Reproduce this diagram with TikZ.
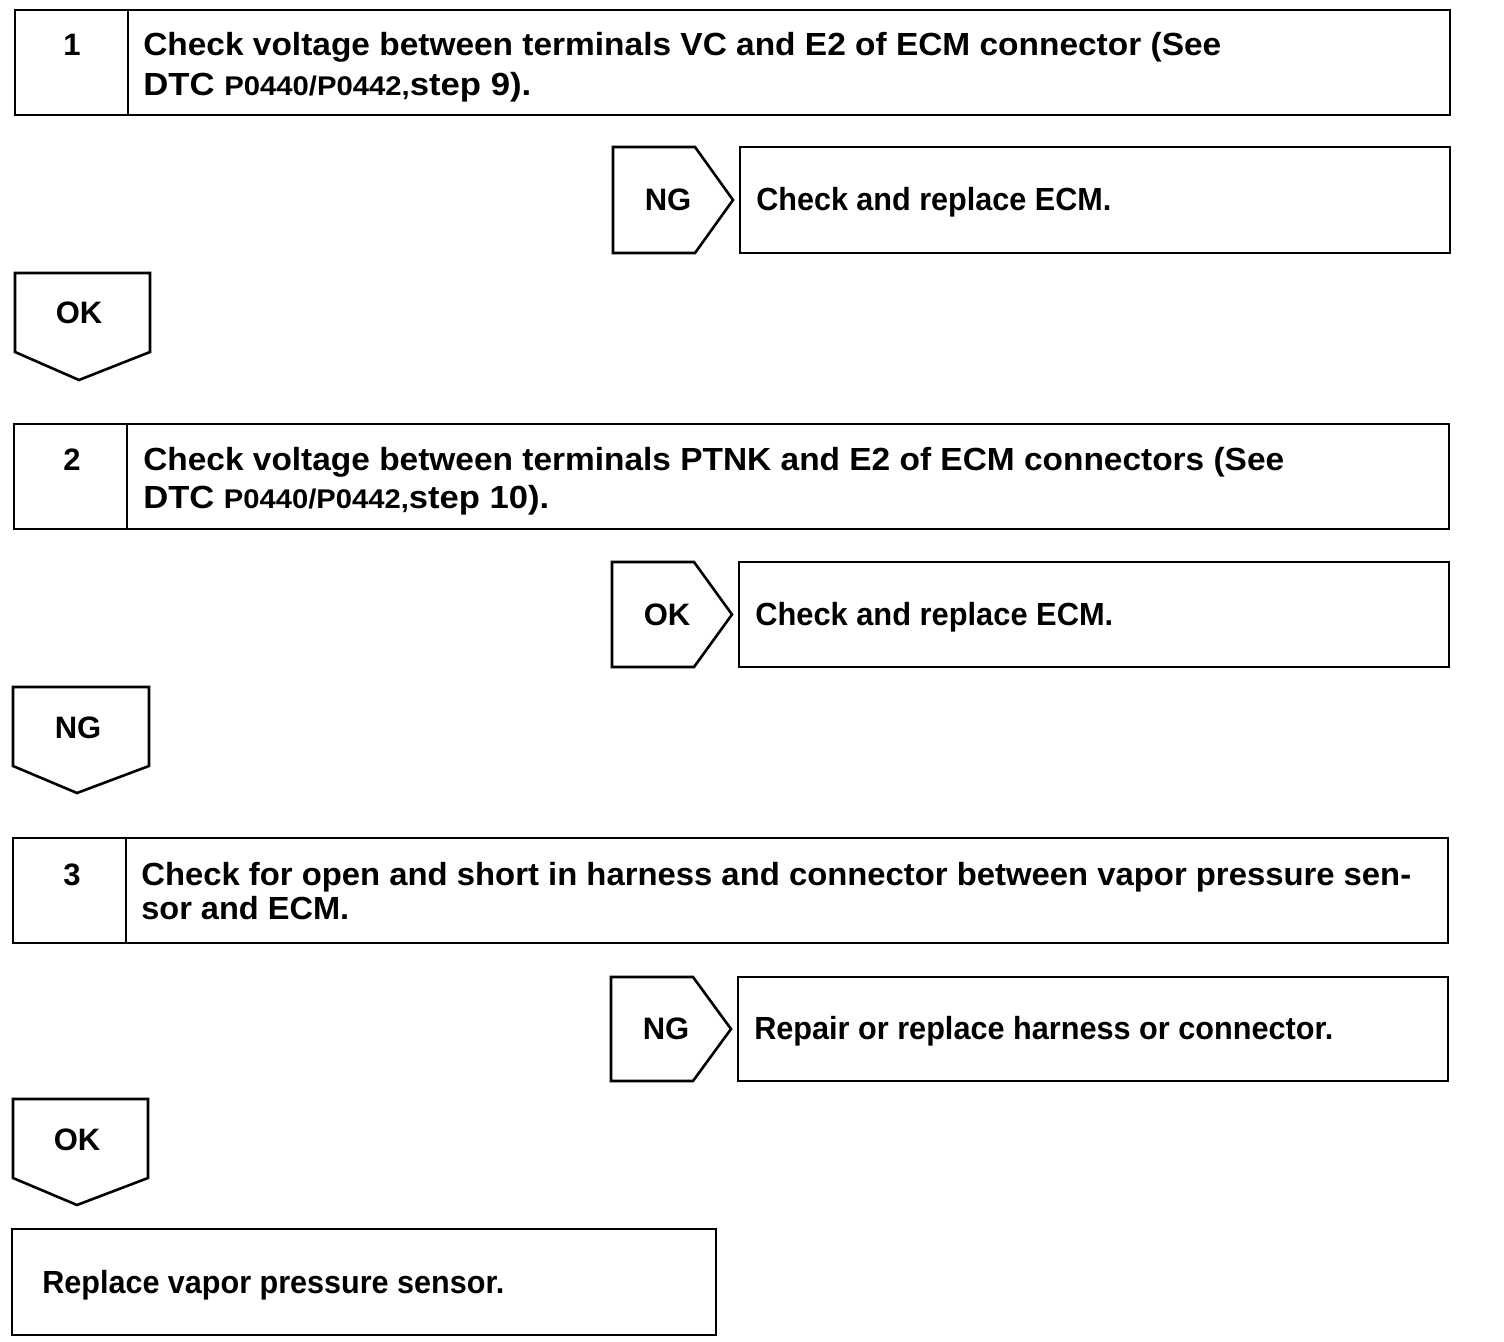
\documentclass[tikz,border=0pt]{standalone}
\usepackage{fontspec}
\setmainfont{Liberation Sans}
\usepackage{graphicx}
\usetikzlibrary{fit}
\newcommand\fitx[2]{\setbox0=\hbox{#2}\pgfmathsetmacro\fxr{#1/\the\wd0}\scalebox{\fxr}[1]{\box0}}
\newcommand\sm[1]{{\fontsize{13.5pt}{15pt}\selectfont #1}}
\begin{document}
\begin{tikzpicture}[x=0.5pt,y=-0.5pt,
  line width=1.3pt,
  cell/.style={draw, inner sep=0pt, outer sep=0pt},
  area/.style={inner sep=0pt, outer sep=0pt},
  txt/.style={anchor=base west, inner sep=0pt, font=\fontsize{16pt}{18pt}\selectfont\bfseries},
  lbl/.style={anchor=base, inner sep=0pt, font=\fontsize{15.5pt}{17pt}\selectfont\bfseries}]
\useasboundingbox[fill=white] (0,0) rectangle (1504,1342);

% ---- step 1
\node[cell, fit={(15,10)(128,115)}] (n1) {};
\node[cell, fit={(128,10)(1450,115)}] (t1) {};
\node[lbl] (n1l) at (72,56) {1};
\node[txt] (t1a) at (142,56) {\fitx{539}{Check voltage between terminals VC and E2 of ECM connector (See}};
\node[txt] (t1b) at (142,96) {\fitx{194}{DTC \sm{P0440/P0442,}step 9).}};

\node[area, fit={(613,147)(733,253)}] (g1) {};
\draw (g1.north west) -- ([xshift=-19pt]g1.north east) -- (g1.east) -- ([xshift=-19pt]g1.south east) -- (g1.south west) -- cycle;
\node[lbl] (g1l) at (668,211) {NG};
\node[cell, fit={(740,147)(1450,253)}] (r1) {};
\node[txt] (r1t) at (755,211) {\fitx{177.5}{Check and replace ECM.}};

\node[area, fit={(15,273)(150,380)}] (p1) {};
\coordinate (p1tip) at (79,380);
\draw (p1.north west) -- (p1.north east) -- ([yshift=14pt]p1.south east) -- (p1tip) -- ([yshift=14pt]p1.south west) -- cycle;
\node[lbl] (p1l) at (79,324) {OK};

% ---- step 2
\node[cell, fit={(14,424)(127,529)}] (n2) {};
\node[cell, fit={(127,424)(1449,529)}] (t2) {};
\node[lbl] (n2l) at (72,471) {2};
\node[txt] (t2a) at (142,471) {\fitx{570.5}{Check voltage between terminals PTNK and E2 of ECM connectors (See}};
\node[txt] (t2b) at (142,509) {\fitx{203}{DTC \sm{P0440/P0442,}step 10).}};

\node[area, fit={(612,562)(732,667)}] (g2) {};
\draw (g2.north west) -- ([xshift=-19pt]g2.north east) -- (g2.east) -- ([xshift=-19pt]g2.south east) -- (g2.south west) -- cycle;
\node[lbl] (g2l) at (667,625) {OK};
\node[cell, fit={(739,562)(1449,667)}] (r2) {};
\node[txt] (r2t) at (754,625) {\fitx{179}{Check and replace ECM.}};

\node[area, fit={(13,687)(149,793)}] (p2) {};
\coordinate (p2tip) at (77,793);
\draw (p2.north west) -- (p2.north east) -- ([yshift=13.5pt]p2.south east) -- (p2tip) -- ([yshift=13.5pt]p2.south west) -- cycle;
\node[lbl] (p2l) at (78,738) {NG};

% ---- step 3
\node[cell, fit={(13,838)(126,943)}] (n3) {};
\node[cell, fit={(126,838)(1448,943)}] (t3) {};
\node[lbl] (n3l) at (72,885) {3};
\node[txt] (t3a) at (140,885) {\fitx{635}{Check for open and short in harness and connector between vapor pressure sen-}};
\node[txt] (t3b) at (140,919) {\fitx{104}{sor and ECM.}};

\node[area, fit={(611,977)(731,1081)}] (g3) {};
\draw (g3.north west) -- ([xshift=-19pt]g3.north east) -- (g3.east) -- ([xshift=-19pt]g3.south east) -- (g3.south west) -- cycle;
\node[lbl] (g3l) at (666,1039) {NG};
\node[cell, fit={(738,977)(1448,1081)}] (r3) {};
\node[txt] (r3t) at (753,1039) {\fitx{289.5}{Repair or replace harness or connector.}};

\node[area, fit={(13,1099)(148,1205)}] (p3) {};
\coordinate (p3tip) at (77,1205);
\draw (p3.north west) -- (p3.north east) -- ([yshift=13.5pt]p3.south east) -- (p3tip) -- ([yshift=13.5pt]p3.south west) -- cycle;
\node[lbl] (p3l) at (77,1150) {OK};

% ---- final
\node[cell, fit={(12,1229)(716,1335)}] (f) {};
\node[txt] (ft) at (41,1293) {\fitx{231}{Replace vapor pressure sensor.}};
\end{tikzpicture}
\end{document}
